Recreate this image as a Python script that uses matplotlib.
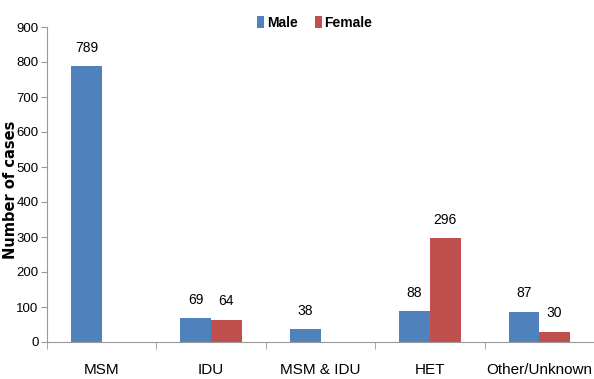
import numpy as np
import matplotlib
matplotlib.use('Agg')
from matplotlib import pyplot as plt

categories = ['MSM', 'IDU', 'MSM & IDU', 'HET', 'Other/Unknown']
male = [789, 69, 38, 88, 87]
female = [None, 64, None, 296, 30]

plt.rcParams['font.family'] = ['Liberation Sans', 'DejaVu Sans']

fig = plt.figure(figsize=(5.94, 3.79), dpi=100)
ax = fig.add_axes([47 / 594, 37 / 379, 1 - 47 / 594, 315 / 379])

x = np.arange(len(categories))
w = 0.28
m = ax.bar(x - w / 2, male, w, color='#4F81BD', label='Male')
fvals = [v if v is not None else 0 for v in female]
f = ax.bar(x + w / 2, fvals, w, color='#C0504D', label='Female')

for xi, v in zip(x, male):
    ax.annotate(str(v), (xi - w / 2, v), xytext=(0, 8), textcoords='offset points',
                ha='center', va='bottom', fontsize=10)
for xi, v in zip(x, female):
    if v is not None:
        ax.annotate(str(v), (xi + w / 2, v), xytext=(0, 8), textcoords='offset points',
                    ha='center', va='bottom', fontsize=10)

ax.set_ylim(0, 900)
ax.set_yticks(range(0, 901, 100))
ax.set_xlim(-0.5, 4.41)
ax.set_xticks(x)
ax.set_xticklabels(categories, fontsize=11)
ax.set_xticks(np.arange(-0.5, 5, 1), minor=True)
ax.tick_params(axis='x', which='major', length=0, pad=15)
ax.tick_params(axis='x', which='minor', length=5, color='#999999')
ax.tick_params(axis='y', labelsize=9.5, length=4, color='#999999', pad=2)

for s in ['top', 'right']:
    ax.spines[s].set_visible(False)
for s in ['left', 'bottom']:
    ax.spines[s].set_color('#999999')

fig.text(11 / 594, 0.5, 'Number of cases', rotation=90, ha='center', va='center',
         fontsize=10.5, fontweight='bold', family='DejaVu Sans')

fig.legend(handles=[m, f], loc='center', bbox_to_anchor=(0.53, 0.94), ncol=2,
           frameon=False, handlelength=0.5, handleheight=0.9,
           handletextpad=0.2, columnspacing=1.2, prop={'weight': 'bold', 'size': 10})

fig.savefig('out.png', dpi=100)
